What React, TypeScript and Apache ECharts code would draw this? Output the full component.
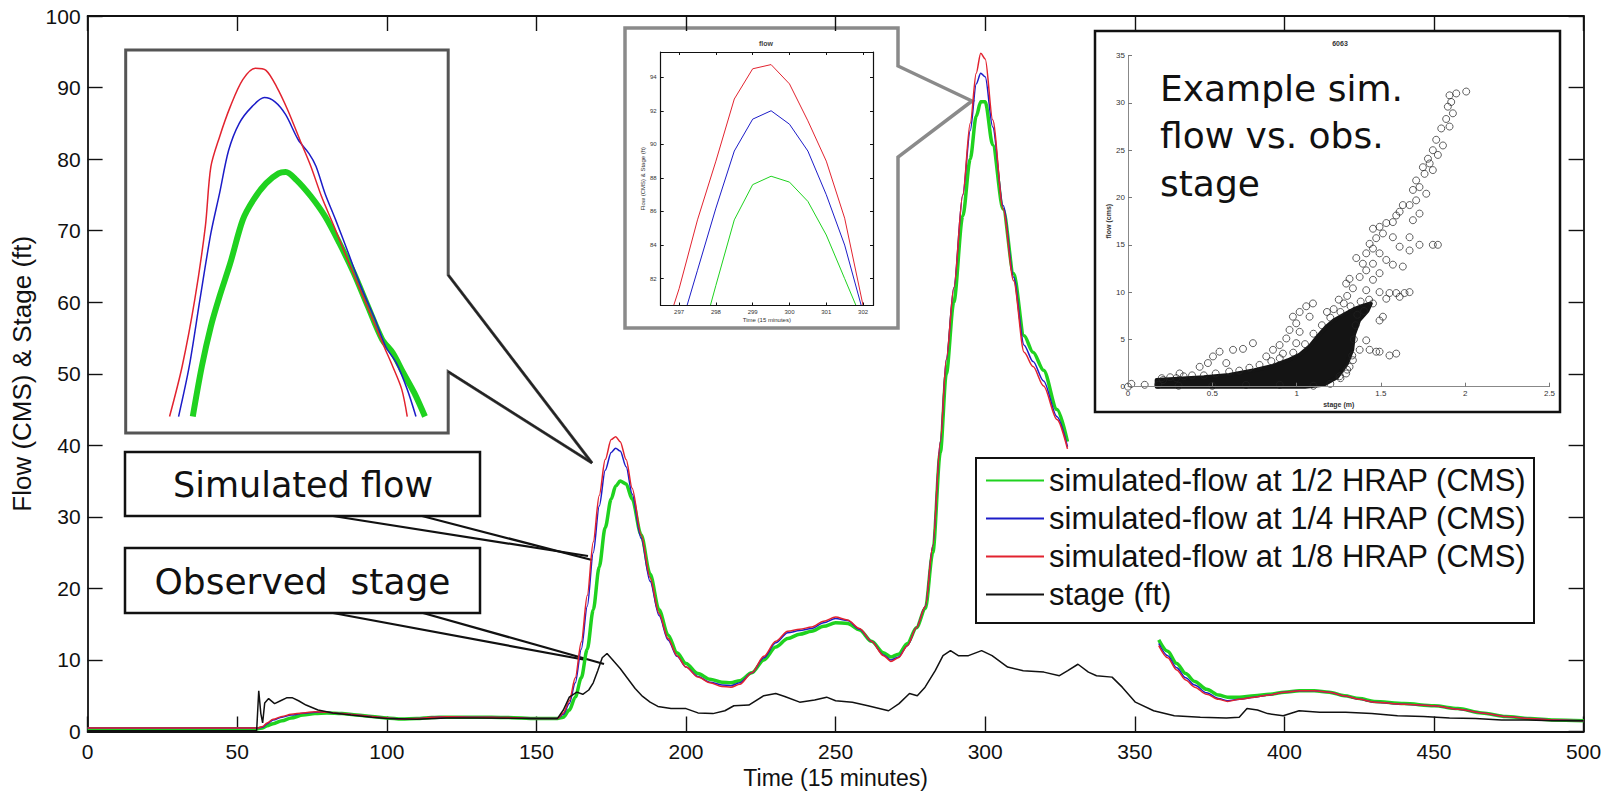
import React, { useEffect, useRef } from "react";
import * as echarts from "echarts";

// ---------- main chart data (time in 15-minute steps) ----------
const flowT = [0, 57, 58.5, 60, 62, 65, 68, 72, 76, 80, 85, 90, 95, 100, 105, 110, 115, 120, 130, 140, 150, 157, 159, 161, 163, 165, 167, 169, 171, 173, 175, 176.5, 178, 180, 182, 185, 188, 191, 194, 197, 200, 204, 208, 212, 215, 218, 222, 226, 230, 234, 238, 242, 246, 250, 254, 258, 262, 266, 268.5, 271, 274, 277, 280, 282.5, 285, 287, 289.5, 292.5, 295, 297, 298.5, 300, 302.5, 306, 309.5, 313, 316, 319.5, 324, 327.5, 343, 358, 361, 364, 367, 370, 374, 378, 381, 385, 390, 395, 400, 405, 410, 415, 420, 425, 430, 440, 450, 458, 466, 474, 482, 490, 500];
const flowHalf = [0.4, 0.4, 0.5, 0.8, 1.1, 1.5, 1.9, 2.3, 2.5, 2.6, 2.5, 2.3, 2.1, 1.9, 1.75, 1.8, 1.95, 2.0, 2.0, 1.95, 1.8, 1.8, 2.0, 3.0, 4.8, 7.5, 11.5, 17, 23, 28.5, 32.5, 34.3, 35, 34.6, 32.5, 27.5, 22, 17, 13.5, 11, 9.5, 8.1, 7.3, 6.9, 6.8, 7.1, 8.2, 10, 11.8, 13, 13.6, 14, 14.7, 15.2, 15.1, 14.2, 12.6, 11, 10.4, 10.8, 12.3, 14.5, 17.2, 25, 39, 50, 60, 72, 80, 86, 88, 88, 82, 73, 64, 55.3, 53, 50.5, 45, 40.5, null, 12.8, 11.2, 9.5, 8.1, 7.0, 5.9, 5.1, 4.8, 4.8, 5.0, 5.2, 5.5, 5.7, 5.7, 5.5, 5.0, 4.6, 4.2, 3.9, 3.6, 3.2, 2.6, 2.1, 1.8, 1.6, 1.5];
const flowQuarter = [0.5, 0.5, 0.6, 1.1, 1.6, 2.0, 2.3, 2.55, 2.7, 2.7, 2.5, 2.3, 2.1, 1.9, 1.75, 1.8, 2.0, 2.05, 2.0, 1.95, 1.8, 1.8, 2.4, 3.9, 6.8, 11.5, 17.5, 25, 31.5, 36.5, 39, 39.6, 39.2, 37, 33.2, 27, 21, 16.2, 12.8, 10.5, 9, 7.7, 6.9, 6.5, 6.4, 6.8, 8.2, 10.3, 12.4, 13.8, 14.1, 14.4, 15.2, 15.8, 15.5, 14.3, 12.6, 10.7, 10, 10.4, 12, 14.5, 17.5, 26, 40.5, 52, 62, 75, 84, 90.5, 92, 91.5, 84.5, 73.5, 63.5, 54, 51.7, 49, 44, 39.8, null, 12.3, 10.6, 8.9, 7.5, 6.5, 5.4, 4.6, 4.3, 4.5, 4.8, 5.1, 5.5, 5.7, 5.7, 5.5, 5.0, 4.5, 4.1, 3.8, 3.6, 3.1, 2.6, 2.1, 1.8, 1.6, 1.5];
const flowEighth = [0.5, 0.5, 0.7, 1.2, 1.7, 2.1, 2.4, 2.6, 2.75, 2.7, 2.5, 2.3, 2.1, 1.9, 1.75, 1.8, 2.0, 2.05, 2.0, 1.95, 1.8, 1.8, 2.6, 4.3, 7.5, 12.5, 19, 26.5, 33, 38, 40.8, 41.2, 40.5, 38, 34, 27.5, 21.5, 16.5, 13, 10.6, 9, 7.6, 6.8, 6.3, 6.2, 6.6, 8.2, 10.5, 12.6, 14, 14.3, 14.6, 15.4, 16.0, 15.6, 14.4, 12.6, 10.6, 9.8, 10.3, 12, 14.5, 17.5, 26, 40.5, 52, 62, 75, 85, 92, 94.8, 94, 85.5, 73, 63, 53, 51, 48.3, 43.6, 39.5, null, 12.0, 10.3, 8.6, 7.2, 6.2, 5.2, 4.5, 4.2, 4.5, 4.8, 5.1, 5.5, 5.7, 5.7, 5.5, 5.0, 4.5, 4.1, 3.8, 3.6, 3.1, 2.6, 2.1, 1.8, 1.6, 1.5];

const stageT = [0, 56.5, 57.2, 57.9, 58.5, 59.2, 60.5, 62.5, 64.5, 66.5, 68.5, 70.5, 73, 77, 82, 88, 95, 100, 110, 120, 130, 140, 150, 157, 159, 161, 163.5, 165.5, 167.5, 169, 170.5, 172, 173.6, 175.3, 178, 180.5, 183, 185.5, 188, 190.6, 195, 200, 204, 209, 213, 216, 221, 226, 230, 233, 238, 243, 247, 250, 255.6, 260.8, 267.7, 271.2, 274.7, 277.3, 279.9, 283.3, 285.9, 288.4, 291, 294.4, 298.8, 302.3, 307.5, 312.7, 319.6, 324.8, 327.6, 331, 334.5, 337.2, 342.4, 345.8, 350.2, 356.3, 363.2, 371.9, 380.6, 384.9, 387.5, 391, 394.4, 399.6, 404.9, 411.8, 420.5, 429.2, 437.8, 446.5, 455.2, 463.9, 472.6, 481.3, 490, 500];
const stageFt = [0.1, 0.1, 5.7, 2.5, 1.2, 4.0, 4.6, 3.9, 4.3, 4.7, 4.7, 4.3, 3.7, 3.0, 2.6, 2.3, 2.0, 1.8, 1.7, 1.9, 1.9, 1.85, 1.8, 1.8, 3.0, 4.8, 5.5, 5.2, 5.8, 6.8, 8.5, 10.3, 10.9, 10.1, 8.8, 7.4, 6.0, 4.9, 4.1, 3.5, 3.2, 3.2, 2.6, 2.5, 2.9, 3.6, 3.7, 5.0, 5.3, 4.9, 4.1, 4.4, 4.8, 4.3, 4.1, 3.6, 2.9, 3.9, 5.3, 5.0, 6.2, 8.5, 10.6, 11.3, 10.6, 10.6, 11.3, 10.6, 9.0, 8.5, 8.3, 7.8, 8.5, 9.4, 8.3, 7.8, 7.6, 6.2, 4.1, 2.9, 2.2, 2.0, 1.9, 2.0, 3.2, 3.0, 2.5, 2.2, 2.9, 2.7, 2.7, 2.5, 2.2, 2.1, 1.9, 1.8, 1.6, 1.6, 1.5, 1.5];

// ---------- middle inset (zoom of main peak) ----------
const peakT = [296.5, 297, 297.5, 298, 298.5, 299, 299.5, 300, 300.5, 301, 301.5, 302, 302.5];
const peakHalf = [72, 75, 77.6, 81.6, 85.5, 87.6, 88.1, 87.75, 86.6, 84.6, 82.0, 79.4, 76];
const peakQuarter = [76, 78.8, 82.5, 86.2, 89.6, 91.5, 92.0, 91.2, 89.6, 87.0, 84.0, 80.0, 76];
const peakEighth = [78, 81.4, 85.5, 89.0, 92.7, 94.5, 94.75, 93.6, 91.4, 89.0, 85.6, 80.4, 75];
const peakXTicks = [297, 298, 299, 300, 301, 302];
const peakYTicks = [82, 84, 86, 88, 90, 92, 94];

// ---------- left inset (enlarged hydrograph, relative time 0-100) ----------
const zoomHalfT = [20.8, 23.6, 26.4, 29.1, 32.4, 36.3, 39.6, 43.5, 47.4, 49.6, 52.9, 57.4, 61.8, 66.2, 70.7, 75.1, 79.5, 82.8, 86.1, 89.5, 92.8];
const zoomHalf = [44.0, 51.0, 56.6, 60.8, 65.4, 71.5, 74.3, 76.6, 78.0, 78.2, 77.1, 74.8, 72.0, 68.3, 64.1, 59.4, 54.8, 52.9, 50.1, 47.3, 44.0];
const zoomQuarterT = [16.4, 19.7, 23.0, 26.4, 29.1, 31.9, 35.2, 39.1, 43.0, 46.3, 49.6, 53.5, 56.8, 59.0, 61.8, 65.1, 69.0, 72.9, 77.3, 80.6, 83.9, 87.3, 90.0];
const zoomQuarter = [44.0, 51.0, 60.3, 69.6, 75.2, 81.2, 85.0, 87.3, 88.6, 88.0, 86.2, 82.7, 80.8, 79.0, 75.2, 71.5, 66.9, 62.2, 57.6, 53.8, 51.5, 47.8, 44.0];
const zoomEighthT = [13.6, 17.5, 21.4, 24.7, 26.4, 29.1, 32.4, 36.3, 40.2, 43.5, 46.8, 50.2, 54.0, 57.4, 60.7, 64.6, 67.9, 71.8, 76.2, 80.1, 82.8, 85.6, 87.3];
const zoomEighth = [44.0, 51.0, 60.3, 70.6, 78.9, 83.1, 87.3, 91.1, 92.7, 92.4, 90.1, 86.9, 82.7, 79.0, 74.8, 70.6, 66.9, 62.7, 58.0, 53.8, 51.0, 47.8, 44.0];

// ---------- right inset: simulated flow vs observed stage ----------
const scatterPoints = [
  [2.006, 31.2], [1.947, 31.0], [1.907, 30.8], [1.917, 30.1], [1.897, 29.6], [1.927, 28.9], [1.887, 28.3], [1.858, 27.3], [1.907, 27.5],
  [1.828, 26.1], [1.868, 25.5], [1.808, 25.0], [1.838, 24.5], [1.779, 24.1], [1.789, 23.6], [1.749, 23.2], [1.808, 22.9], [1.759, 22.5],
  [1.709, 21.8], [1.729, 21.1], [1.690, 20.8], [1.769, 20.4], [1.709, 19.7], [1.670, 19.2], [1.630, 19.2], [1.611, 18.5], [1.591, 18.1],
  [1.729, 18.3], [1.690, 17.6], [1.571, 17.4], [1.532, 17.3], [1.492, 16.9], [1.453, 16.7], [1.512, 16.2], [1.472, 15.7], [1.433, 15.1],
  [1.571, 15.8], [1.670, 15.8], [1.729, 15.0], [1.808, 15.0], [1.838, 15.0], [1.611, 14.8], [1.670, 14.4], [1.453, 14.6], [1.413, 14.1],
  [1.492, 14.1], [1.532, 13.4], [1.453, 13.0], [1.393, 13.0], [1.354, 13.6], [1.571, 12.9], [1.630, 12.7], [1.413, 12.3], [1.492, 12.0],
  [1.374, 11.6], [1.314, 11.4], [1.453, 11.3], [1.294, 10.9], [1.334, 10.4], [1.413, 10.2], [1.492, 10.0], [1.551, 9.9], [1.591, 9.9],
  [1.640, 9.9], [1.670, 10.0], [1.611, 9.5], [1.532, 9.3], [1.453, 8.8], [1.492, 7.0], [1.512, 7.4], [1.413, 4.9], [1.374, 3.9],
  [1.433, 3.9], [1.472, 3.7], [1.492, 3.7], [1.551, 3.3], [1.591, 3.5], [1.334, 2.8], [1.314, 2.1], [1.294, 1.4], [1.255, 1.1],
  [1.097, 8.8], [1.057, 8.5], [1.018, 7.9], [1.077, 7.4], [0.978, 7.4], [0.998, 6.7], [0.958, 6.0], [1.018, 5.8], [0.939, 5.1],
  [0.998, 4.6], [0.899, 4.4], [0.860, 3.9], [0.919, 3.5], [0.820, 3.2], [0.741, 4.6], [0.682, 4.0], [0.623, 3.9], [0.543, 3.7],
  [0.504, 3.2], [0.474, 2.5], [0.425, 2.1], [0.583, 2.5], [0.306, 1.4], [0.287, 0.9], [0.208, 0.7], [0.099, 0.2], [0.0, 0.0], [0.02, 0.3],
  [0.2, 0.9], [0.25, 1.0], [0.33, 1.1], [0.38, 1.2], [0.45, 1.2], [0.52, 1.4], [0.6, 1.6], [0.66, 1.7], [0.72, 2.0], [0.78, 2.3],
  [0.85, 2.7], [0.9, 3.0], [0.98, 3.6], [1.05, 4.5], [1.1, 5.6], [1.15, 6.5], [1.2, 7.3], [1.26, 7.9], [1.32, 8.5], [1.38, 9.0],
  [1.43, 9.2], [1.35, 6.5], [1.34, 5.0], [1.33, 3.3], [1.3, 1.8], [1.26, 0.9], [1.2, 0.3], [0.18, 0.2], [0.3, 0.1], [0.5, 0.1],
  [0.7, 0.2], [0.9, 0.2], [1.1, 0.1], [1.22, 8.2], [1.28, 8.8], [1.36, 7.6], [1.40, 8.0], [1.3, 9.6], [1.25, 9.2], [1.18, 7.9]
];
const cloudStage = [0.17, 0.17, 0.3, 0.45, 0.6, 0.75, 0.86, 0.95, 1.02, 1.08, 1.13, 1.18, 1.22, 1.28, 1.34, 1.40, 1.44, 1.42, 1.37, 1.34, 1.33, 1.30, 1.24, 1.16, 1.05];
const cloudFlow = [0.0, 0.7, 0.85, 1.0, 1.25, 1.75, 2.2, 2.8, 3.4, 4.3, 5.4, 6.4, 7.0, 7.6, 8.2, 8.6, 8.8, 8.0, 7.0, 5.5, 3.9, 2.5, 1.0, 0.2, 0.0];

const NAME_HALF = "simulated-flow at 1/2 HRAP (CMS)";
const NAME_QUARTER = "simulated-flow at 1/4 HRAP (CMS)";
const NAME_EIGHTH = "simulated-flow at 1/8 HRAP (CMS)";
const NAME_STAGE = "stage (ft)";

const GREEN = "#1fd21f";
const BLUE = "#1c1cc8";
const RED = "#e2232f";
const BLACK = "#111111";

const pairs = (xs: number[], ys: (number | null)[]) =>
  xs.map((x, i) => [x, ys[i] === null ? "-" : ys[i]]);

function buildOption() {
  const mainLine = (name: string, xs: number[], ys: (number | null)[], color: string, width: number, smooth: boolean) => ({
    name,
    type: "line",
    xAxisIndex: 0,
    yAxisIndex: 0,
    data: pairs(xs, ys),
    symbol: "none",
    smooth: smooth ? 0.3 : false,
    smoothMonotone: smooth ? "x" : undefined,
    lineStyle: { color, width },
    itemStyle: { color },
    silent: true,
    z: 2,
  });
  const subLine = (name: string, xi: number, yi: number, xs: number[], ys: number[], color: string, width: number, smooth: boolean) => ({
    name,
    type: "line",
    xAxisIndex: xi,
    yAxisIndex: yi,
    data: pairs(xs, ys),
    symbol: "none",
    smooth: smooth ? 0.3 : false,
    lineStyle: { color, width },
    itemStyle: { color },
    silent: true,
    clip: true,
    z: 3,
  });

  const tickFont = { fontFamily: "Liberation Sans", color: BLACK };
  const axisLine = { show: true, onZero: false, lineStyle: { color: BLACK, width: 1.8 } };
  const inTick = { show: true, inside: true, length: 15, lineStyle: { color: BLACK, width: 1.4 } };
  const tinyLine = { show: true, onZero: false, lineStyle: { color: BLACK, width: 1.2 } };
  const tinyTick = (vals: number[]) => ({ show: true, inside: true, length: 3, customValues: vals, lineStyle: { color: BLACK, width: 1 } });
  const grayLine = { show: true, onZero: false, lineStyle: { color: "#888", width: 1 } };

  return {
    animation: false,
    backgroundColor: "#ffffff",
    grid: [
      { left: 87.6, right: 30.4, top: 16, bottom: 59.5, outerBoundsMode: "none", containLabel: false },
      { left: 660.7, top: 52, width: 212.3, height: 253.5, outerBoundsMode: "none", containLabel: false },
      { left: 125.7, top: 50, width: 322.5, height: 383, outerBoundsMode: "none", containLabel: false },
      { left: 1128, top: 55.6, width: 421.5, height: 331.1, outerBoundsMode: "none", containLabel: false },
    ],
    xAxis: [
      {
        type: "value", gridIndex: 0, min: 0, max: 500, interval: 50,
        axisLine, axisTick: inTick, splitLine: { show: false },
        axisLabel: { ...tickFont, fontSize: 21, margin: 9 },
        name: "Time (15 minutes)", nameLocation: "middle", nameGap: 32,
        nameTextStyle: { fontFamily: "Liberation Sans", fontSize: 23, color: BLACK },
      },
      {
        type: "value", gridIndex: 0, position: "top", min: 0, max: 500, interval: 50,
        axisLine, axisTick: inTick, axisLabel: { show: false }, splitLine: { show: false },
      },
      {
        type: "value", gridIndex: 1, min: 296.5, max: 302.27, z: 5,
        axisLine: tinyLine, axisTick: tinyTick(peakXTicks), splitLine: { show: false },
        axisLabel: { customValues: peakXTicks, fontSize: 6, margin: 3, color: "#333", fontFamily: "Liberation Sans" },
        name: "Time (15 minutes)", nameLocation: "middle", nameGap: 11,
        nameTextStyle: { fontSize: 6, color: "#333", fontFamily: "Liberation Sans" },
      },
      {
        type: "value", gridIndex: 1, position: "top", min: 296.5, max: 302.27, z: 5,
        axisLine: tinyLine, axisTick: tinyTick(peakXTicks), axisLabel: { show: false }, splitLine: { show: false },
      },
      { type: "value", gridIndex: 2, min: 0, max: 100, show: false },
      {
        type: "value", gridIndex: 3, min: 0, max: 2.5, interval: 0.5, z: 5,
        axisLine: grayLine, splitLine: { show: false },
        axisTick: { show: true, inside: true, length: 4, lineStyle: { color: "#777" } },
        axisLabel: { fontSize: 8, margin: 3, color: "#333", fontFamily: "Liberation Sans" },
        name: "stage (m)", nameLocation: "middle", nameGap: 14,
        nameTextStyle: { fontSize: 7, color: "#333", fontWeight: "bold", fontFamily: "Liberation Sans" },
      },
    ],
    yAxis: [
      {
        type: "value", gridIndex: 0, min: 0, max: 100, interval: 10,
        axisLine, axisTick: inTick, splitLine: { show: false },
        axisLabel: { ...tickFont, fontSize: 21, margin: 7 },
        name: "Flow (CMS) & Stage (ft)", nameLocation: "middle", nameGap: 52,
        nameTextStyle: { fontFamily: "Liberation Sans", fontSize: 26, color: BLACK },
      },
      {
        type: "value", gridIndex: 0, position: "right", min: 0, max: 100, interval: 10,
        axisLine, axisTick: inTick, axisLabel: { show: false }, splitLine: { show: false },
      },
      {
        type: "value", gridIndex: 1, min: 80.4, max: 95.5, z: 5,
        axisLine: tinyLine, axisTick: tinyTick(peakYTicks), splitLine: { show: false },
        axisLabel: { customValues: peakYTicks, fontSize: 6, margin: 4, color: "#333", fontFamily: "Liberation Sans" },
        name: "Flow (CMS) & Stage (ft)", nameLocation: "middle", nameGap: 11,
        nameTextStyle: { fontSize: 6, color: "#333", fontFamily: "Liberation Sans" },
      },
      {
        type: "value", gridIndex: 1, position: "right", min: 80.4, max: 95.5, z: 5,
        axisLine: tinyLine, axisTick: tinyTick(peakYTicks), axisLabel: { show: false }, splitLine: { show: false },
      },
      { type: "value", gridIndex: 2, min: 41.7, max: 95.25, show: false },
      {
        type: "value", gridIndex: 3, min: 0, max: 35, interval: 5, z: 5,
        axisLine: grayLine, splitLine: { show: false },
        axisTick: { show: true, inside: true, length: 4, lineStyle: { color: "#777" } },
        axisLabel: { fontSize: 8, margin: 3, color: "#333", fontFamily: "Liberation Sans" },
        name: "flow (cms)", nameLocation: "middle", nameGap: 16,
        nameTextStyle: { fontSize: 7, color: "#333", fontWeight: "bold", fontFamily: "Liberation Sans" },
      },
    ],
    legend: {
      data: [NAME_HALF, NAME_QUARTER, NAME_EIGHTH, NAME_STAGE],
      orient: "vertical",
      left: 985,
      top: 465,
      padding: 0,
      itemGap: 7,
      itemWidth: 58,
      itemHeight: 14,
      selectedMode: false,
      itemStyle: { opacity: 0 },
      textStyle: { fontFamily: "Liberation Sans", fontSize: 31, color: BLACK },
      z: 20,
    },
    graphic: [
      // left enlarged inset frame with call-out notch
      {
        type: "polygon", z: 0,
        shape: { points: [[125.7, 50], [448.2, 50], [448.2, 275], [592, 463], [448.2, 371.7], [448.2, 433], [125.7, 433]] },
        style: { fill: "#fff", stroke: "#555", lineWidth: 3, lineJoin: "miter" },
      },
      { type: "line", z: 1, shape: { x1: 448.2, y1: 275, x2: 592, y2: 463 }, style: { stroke: "#222", lineWidth: 2 } },
      { type: "line", z: 1, shape: { x1: 448.2, y1: 371.7, x2: 592, y2: 463 }, style: { stroke: "#222", lineWidth: 2 } },
      // middle inset frame with notch
      {
        type: "polygon", z: 0,
        shape: { points: [[625, 28], [898, 28], [898, 66], [972, 101], [898, 157], [898, 328], [625, 328]] },
        style: { fill: "#fff", stroke: "#8a8a8a", lineWidth: 3.5, lineJoin: "miter" },
      },
      { type: "text", z: 10, x: 766, y: 43, style: { text: "flow", font: "bold 7px Liberation Sans", fill: "#444", align: "center", verticalAlign: "middle" } },
      // scatter inset frame
      { type: "rect", z: 0, shape: { x: 1095, y: 31, width: 465, height: 381 }, style: { fill: "#fff", stroke: BLACK, lineWidth: 2.5 } },
      { type: "text", z: 10, x: 1340, y: 43, style: { text: "6063", font: "bold 7px Liberation Sans", fill: "#333", align: "center", verticalAlign: "middle" } },
      { type: "text", z: 10, x: 1160, y: 88, style: { text: "Example sim.", font: "36px DejaVu Sans", fill: BLACK, align: "left", verticalAlign: "middle" } },
      { type: "text", z: 10, x: 1160, y: 135, style: { text: "flow vs. obs.", font: "36px DejaVu Sans", fill: BLACK, align: "left", verticalAlign: "middle" } },
      { type: "text", z: 10, x: 1160, y: 183, style: { text: "stage", font: "36px DejaVu Sans", fill: BLACK, align: "left", verticalAlign: "middle" } },
      // legend frame
      { type: "rect", z: 0, shape: { x: 976, y: 458, width: 558, height: 165 }, style: { fill: "#fff", stroke: BLACK, lineWidth: 2 } },
      // call-out boxes
      { type: "line", z: 1, shape: { x1: 333, y1: 516, x2: 588, y2: 556 }, style: { stroke: BLACK, lineWidth: 2.2 } },
      { type: "line", z: 1, shape: { x1: 422, y1: 516, x2: 592, y2: 560 }, style: { stroke: BLACK, lineWidth: 2.2 } },
      { type: "line", z: 1, shape: { x1: 333, y1: 613, x2: 586, y2: 660 }, style: { stroke: BLACK, lineWidth: 2.2 } },
      { type: "line", z: 1, shape: { x1: 423, y1: 613, x2: 604, y2: 664 }, style: { stroke: BLACK, lineWidth: 2.2 } },
      { type: "rect", z: 1, shape: { x: 125, y: 452, width: 355, height: 64 }, style: { fill: "#fff", stroke: BLACK, lineWidth: 2.5 } },
      { type: "rect", z: 1, shape: { x: 125, y: 548, width: 355, height: 65 }, style: { fill: "#fff", stroke: BLACK, lineWidth: 2.5 } },
      { type: "text", z: 10, x: 303, y: 485, style: { text: "Simulated flow", font: "35px DejaVu Sans", fill: BLACK, align: "center", verticalAlign: "middle" } },
      { type: "text", z: 10, x: 302.5, y: 581, style: { text: "Observed  stage", font: "36px DejaVu Sans", fill: BLACK, align: "center", verticalAlign: "middle" } },
    ],
    series: [
      mainLine(NAME_HALF, flowT, flowHalf, GREEN, 3.5, true),
      mainLine(NAME_QUARTER, flowT, flowQuarter, BLUE, 1.5, true),
      mainLine(NAME_EIGHTH, flowT, flowEighth, RED, 1.5, true),
      mainLine(NAME_STAGE, stageT, stageFt, BLACK, 1.5, false),
      subLine("inset 1/2 HRAP", 2, 2, peakT, peakHalf, GREEN, 1, false),
      subLine("inset 1/4 HRAP", 2, 2, peakT, peakQuarter, BLUE, 1, false),
      subLine("inset 1/8 HRAP", 2, 2, peakT, peakEighth, RED, 1, false),
      subLine("zoom 1/2 HRAP", 4, 4, zoomHalfT, zoomHalf, GREEN, 6, true),
      subLine("zoom 1/4 HRAP", 4, 4, zoomQuarterT, zoomQuarter, BLUE, 1.5, true),
      subLine("zoom 1/8 HRAP", 4, 4, zoomEighthT, zoomEighth, RED, 1.5, true),
      {
        name: "dense cloud",
        type: "custom",
        xAxisIndex: 5,
        yAxisIndex: 5,
        silent: true,
        z: 3,
        data: cloudStage.map((s, i) => [s, cloudFlow[i]]),
        renderItem: (params: any, api: any) => {
          if (params.dataIndex !== 0) return null;
          const pts = cloudStage.map((s, i) => api.coord([s, cloudFlow[i]]));
          return { type: "polygon", shape: { points: pts }, style: { fill: "#141414", stroke: "#141414", lineWidth: 4, lineJoin: "round" } };
        },
      },
      {
        name: "sim flow vs obs stage",
        type: "scatter",
        xAxisIndex: 5,
        yAxisIndex: 5,
        data: scatterPoints,
        symbol: "circle",
        symbolSize: 7,
        silent: true,
        z: 4,
        itemStyle: { color: "rgba(0,0,0,0)", borderColor: "#222", borderWidth: 0.9 },
      },
    ],
  };
}

export default function App() {
  const ref = useRef<HTMLDivElement>(null);
  useEffect(() => {
    if (!ref.current) return;
    const chart = echarts.init(ref.current, null, { renderer: "svg" });
    chart.setOption(buildOption() as any);
    return () => chart.dispose();
  }, []);
  return (
    <div
      ref={ref}
      style={{ position: "absolute", left: 0, top: 0, width: 1614, height: 791, background: "#fff" }}
    />
  );
}
